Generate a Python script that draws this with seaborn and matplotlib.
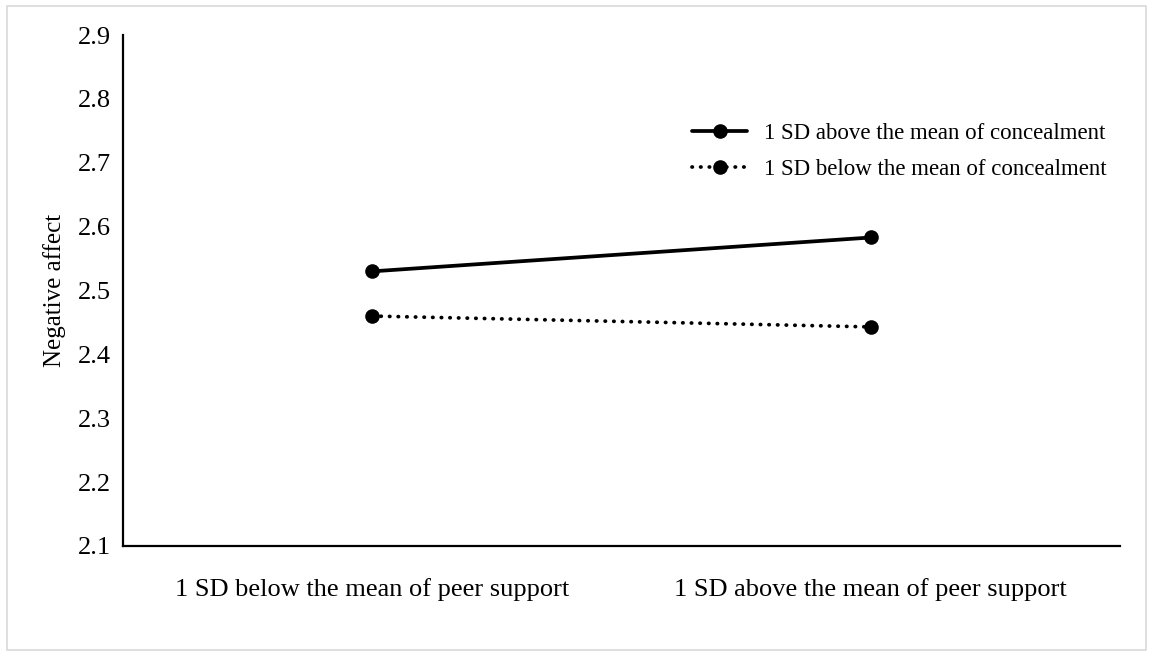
import matplotlib
matplotlib.use("Agg")
import matplotlib.pyplot as plt
import seaborn as sns
import pandas as pd
from matplotlib.patches import Rectangle
from matplotlib.lines import Line2D

categories = ["1 SD below the mean of peer support", "1 SD above the mean of peer support"]
series_names = ["1 SD above the mean of concealment", "1 SD below the mean of concealment"]
above_values = [2.53, 2.583]
below_values = [2.46, 2.443]
y_ticks = [2.1, 2.2, 2.3, 2.4, 2.5, 2.6, 2.7, 2.8, 2.9]

sns.set_theme(style="white")
plt.rcParams["font.family"] = ["Liberation Serif", "DejaVu Serif"]

rows = []
for i, c in enumerate(categories):
    rows.append({"x": i, "cat": c, "y": above_values[i], "series": series_names[0]})
    rows.append({"x": i, "cat": c, "y": below_values[i], "series": series_names[1]})
df = pd.DataFrame(rows)

LW = 2.7
MS = 10.5
DOT = (0.1, 2.2)

fig = plt.figure(figsize=(11.53, 6.56), dpi=100)
ax = fig.add_axes([0.1067, 0.1677, 0.8647, 0.7789])

sns.lineplot(data=df, x="x", y="y", hue="series", style="series",
             palette=["black", "black"], markers=["o", "o"],
             dashes=[(None, None), DOT], markersize=MS, linewidth=LW,
             markeredgewidth=0, ax=ax, legend=False)
for line in ax.lines:
    line.set_dash_capstyle("round")

ax.set_xlim(-0.5, 1.5)
ax.set_ylim(2.1, 2.9)
ax.set_yticks(y_ticks)
ax.set_yticklabels([f"{v:.1f}" for v in y_ticks], fontsize=19)
ax.set_xticks(range(len(categories)))
ax.set_xticklabels(categories, fontsize=19)
ax.tick_params(axis="y", length=0, pad=9, colors="black")
ax.tick_params(axis="x", length=0, pad=23, colors="black")
ax.set_xlabel("")
ax.set_ylabel("Negative affect", fontsize=18, color="black", labelpad=8)

for s in ["top", "right"]:
    ax.spines[s].set_visible(False)
for s in ["left", "bottom"]:
    ax.spines[s].set_color("black")
    ax.spines[s].set_linewidth(1.6)

handles = [
    Line2D([], [], color="black", lw=LW, marker="o", markersize=MS, markeredgewidth=0),
    Line2D([], [], color="black", lw=LW, marker="o", markersize=MS, markeredgewidth=0,
           linestyle=(0, DOT), dash_capstyle="round"),
]
leg = ax.legend(handles, series_names, loc="upper right", bbox_to_anchor=(0.987, 0.828),
                frameon=False, fontsize=16.5, handlelength=2.4, handletextpad=0.75,
                labelspacing=0.67, borderpad=0, borderaxespad=0)
for t in leg.get_texts():
    t.set_color("black")

fig.patches.append(Rectangle((0.006, 0.009), 0.988, 0.982, transform=fig.transFigure,
                             fill=False, edgecolor="#d9d9d9", linewidth=1.2))

fig.savefig("out.png", dpi=100, facecolor="white")
